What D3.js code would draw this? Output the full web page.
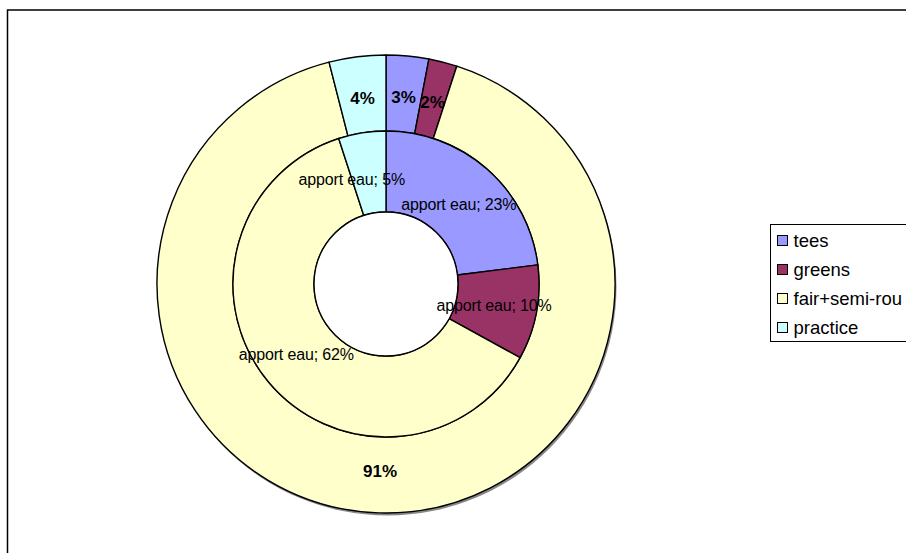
<!DOCTYPE html>
<html><head><meta charset="utf-8">
<script src="https://cdn.jsdelivr.net/npm/d3@7"></script>
<style>html,body{margin:0;padding:0;background:#fff;overflow:hidden}svg{display:block}</style>
</head><body>
<script>
const categories = ["tees", "greens", "fair+semi-rou", "practice"];
const colors = ["#9999FF", "#993366", "#FFFFCC", "#CCFFFF"];
const innerValues = [23, 10, 62, 5];   // "apport eau" ring
const outerValues = [3, 2, 91, 4];     // surface ring
const innerLabelPrefix = "apport eau; ";

const W = 906, H = 553;
const cx = 386, cy = 284;
const rOuter = 229, rMid = 153, rHole = 72;

const svg = d3.select("body").append("svg").attr("width", W).attr("height", H);

// frame
svg.append("rect").attr("x", 7.5).attr("y", 10).attr("width", 1200).attr("height", 1200)
  .attr("fill", "#fff").attr("stroke", "#000").attr("stroke-width", 1.5);

const g = svg.append("g").attr("transform", `translate(${cx},${cy})`);

const pie = d3.pie().sort(null).value(d => d);

// shadow
g.append("circle").attr("cx", 1.5).attr("cy", 2.5).attr("r", rOuter).attr("fill", "#888");

const outerArc = d3.arc().innerRadius(rMid).outerRadius(rOuter);
const innerArc = d3.arc().innerRadius(rHole).outerRadius(rMid);
const outerLabelArc = d3.arc().innerRadius(146).outerRadius(rOuter);
const innerLabelArc = d3.arc().innerRadius(rHole).outerRadius(148);

const outerData = pie(outerValues);
const innerData = pie(innerValues);

g.selectAll("path.outer").data(outerData).join("path").attr("class", "outer")
  .attr("d", outerArc).attr("fill", (d, i) => colors[i])
  .attr("stroke", "#000").attr("stroke-width", 1.4).attr("stroke-linejoin", "round");

g.selectAll("path.inner").data(innerData).join("path").attr("class", "inner")
  .attr("d", innerArc).attr("fill", (d, i) => colors[i])
  .attr("stroke", "#000").attr("stroke-width", 1.4).attr("stroke-linejoin", "round");

// hole (white)
g.append("circle").attr("r", rHole).attr("fill", "#fff").attr("stroke", "#000").attr("stroke-width", 1.4);

// outer labels
g.selectAll("text.outer").data(outerData).join("text").attr("class", "outer")
  .attr("transform", d => { const c = outerLabelArc.centroid(d); return `translate(${c[0]},${c[1]})`; })
  .attr("text-anchor", "middle").attr("dy", "0.35em")
  .style("font-family", "Liberation Sans, Arial, sans-serif").style("font-weight", "bold").style("font-size", "17px")
  .text(d => d.data + "%");

// inner labels
const innerNudge = [[0, 3], [0, 1], [-5, 0], [-17, 4]];
g.selectAll("text.inner").data(innerData).join("text").attr("class", "inner")
  .attr("transform", (d, i) => { const c = innerLabelArc.centroid(d); return `translate(${c[0] + innerNudge[i][0]},${c[1] + innerNudge[i][1]})`; })
  .attr("text-anchor", "middle").attr("dy", "0.35em")
  .style("font-family", "Liberation Sans, Arial, sans-serif").style("font-size", "16px")
  .style("letter-spacing", "-0.15px")
  .text(d => innerLabelPrefix + d.data + "%");

// legend
const lg = svg.append("g").attr("transform", "translate(770.5,224.5)");
lg.append("rect").attr("width", 300).attr("height", 117).attr("fill", "#fff").attr("stroke", "#000").attr("stroke-width", 1);
const items = lg.selectAll("g.item").data(categories).join("g").attr("class", "item")
  .attr("transform", (d, i) => `translate(7,${16 + i * 29})`);
items.append("rect").attr("x", 0).attr("y", -5).attr("width", 10).attr("height", 10)
  .attr("fill", (d, i) => colors[i]).attr("stroke", "#000").attr("stroke-width", 1);
items.append("text").attr("x", 16).attr("dy", "0.35em")
  .style("font-family", "Liberation Sans, Arial, sans-serif").style("font-size", "18.5px")
  .text(d => d);
</script>
</body></html>
